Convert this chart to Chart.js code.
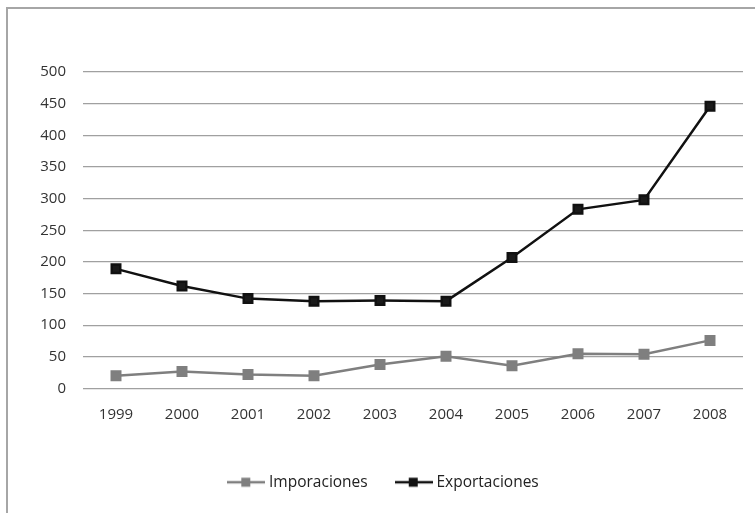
<!DOCTYPE html>
<html>
<head>
<meta charset="utf-8">
<script src="https://cdn.jsdelivr.net/npm/chart.js@4/dist/chart.umd.min.js"></script>
<style>
  html, body { margin: 0; padding: 0; background: #fff; overflow: hidden; }
  #wrap { position: relative; width: 755px; height: 513px; }
  #frame { position: absolute; left: 6px; top: 7px; width: 800px; height: 600px; border: 2px solid #a6a6a6; box-sizing: border-box; }
  canvas { position: absolute; left: 0; top: 0; }
</style>
</head>
<body>
<div id="wrap">
  <div id="frame"></div>
  <canvas id="chart" width="755" height="513"></canvas>
</div>
<script>
const years = ['1999', '2000', '2001', '2002', '2003', '2004', '2005', '2006', '2007', '2008'];
const imporaciones = [20, 27, 22, 20, 38, 51, 36, 55, 54, 76];
const exportaciones = [189, 162, 142, 138, 139, 138, 207, 283, 298, 446];
const yTicks = [0, 50, 100, 150, 200, 250, 300, 350, 400, 450, 500];

// little line + square swatch for the legend
function swatch(color) {
  const c = document.createElement('canvas');
  c.width = 38; c.height = 12;
  const g = c.getContext('2d');
  g.strokeStyle = color;
  g.lineWidth = 2.5;
  g.beginPath(); g.moveTo(0, 6); g.lineTo(38, 6); g.stroke();
  g.fillStyle = color;
  g.fillRect(14, 1.5, 9, 9);
  return c;
}

const ctx = document.getElementById('chart').getContext('2d');
const chart = new Chart(ctx, {
  type: 'line',
  data: {
    labels: years,
    datasets: [
      {
        label: 'Imporaciones',
        data: imporaciones,
        borderColor: '#7f7f7f',
        backgroundColor: '#7f7f7f',
        borderWidth: 2.5,
        pointStyle: 'rect',
        pointRadius: 6,
        pointHoverRadius: 6,
        tension: 0
      },
      {
        label: 'Exportaciones',
        data: exportaciones,
        borderColor: '#111111',
        backgroundColor: '#1a1a1a',
        borderWidth: 2.5,
        pointStyle: 'rect',
        pointRadius: 6,
        pointHoverRadius: 6,
        tension: 0
      }
    ]
  },
  options: {
    responsive: false,
    animation: false,
    layout: { padding: { left: 27, right: 12, top: 72, bottom: 13 } },
    plugins: {
      tooltip: { enabled: false },
      legend: {
        position: 'bottom',
        labels: {
          usePointStyle: true,
          pointStyleWidth: 30,
          boxHeight: 12,
          padding: 31,
          color: '#222',
          font: { family: 'Open Sans', size: 15.5 },
          generateLabels: (ch) => ch.data.datasets.map((ds, i) => ({
            text: ds.label,
            pointStyle: swatch(ds.borderColor),
            fillStyle: ds.borderColor,
            strokeStyle: ds.borderColor,
            lineWidth: 0,
            fontColor: '#222',
            hidden: false,
            datasetIndex: i
          }))
        }
      }
    },
    scales: {
      x: {
        offset: true,
        grid: { display: false, drawTicks: false },
        border: { display: false },
        ticks: { padding: 17, color: '#333', font: { family: 'Open Sans', size: 15 } },
        afterFit: (s) => { s.height = 55; }
      },
      y: {
        min: 0,
        max: 500,
        afterBuildTicks: (s) => { s.ticks = yTicks.map(v => ({ value: v })); },
        grid: { color: '#a0a0a0', lineWidth: 1.2, drawTicks: false },
        border: { display: false },
        ticks: { padding: 17, color: '#333', font: { family: 'Open Sans', size: 15 } },
        afterFit: (s) => { s.width = 56; }
      }
    }
  }
});
</script>
</body>
</html>
